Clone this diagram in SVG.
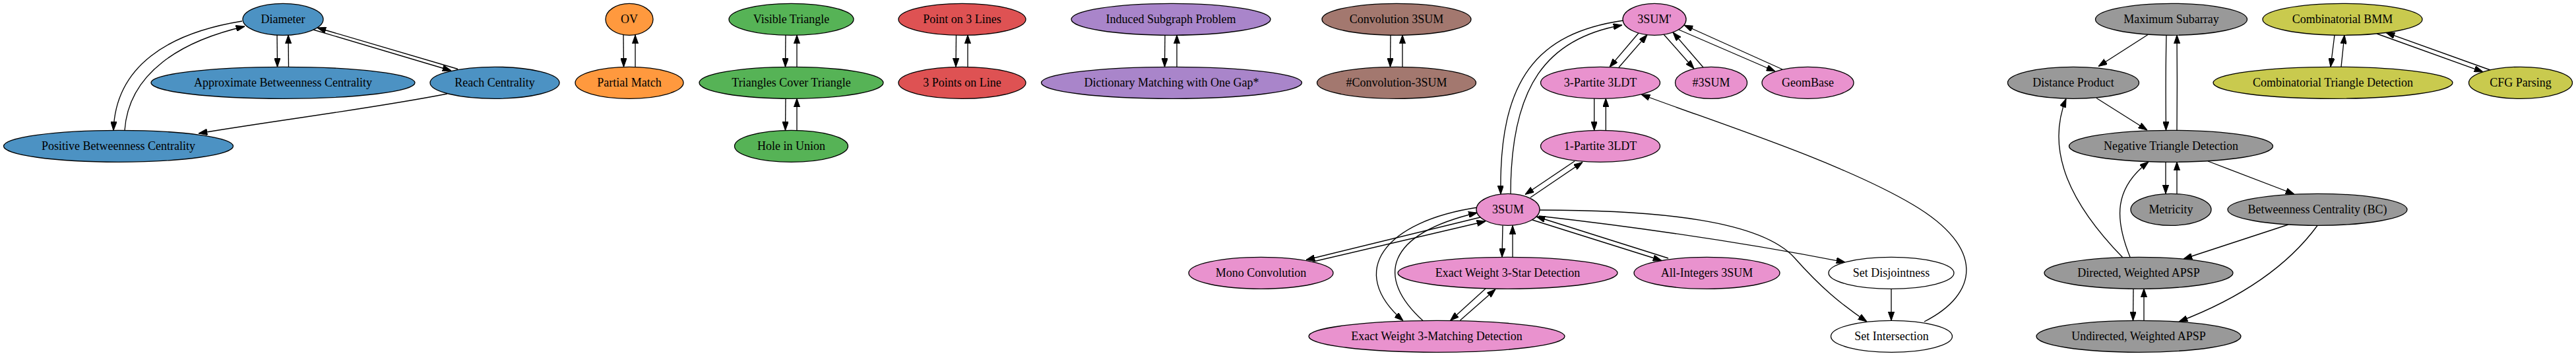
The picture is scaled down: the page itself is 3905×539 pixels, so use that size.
<svg xmlns="http://www.w3.org/2000/svg" width="3905" height="539" viewBox="0 0 3905 539">
<style>
.n ellipse{stroke:#000;stroke-width:1.33}
.n text{font-family:"Liberation Serif","Times New Roman",serif;font-size:18px;text-anchor:middle;fill:#000}
.blue ellipse{fill:#4c92c3}
.orange ellipse{fill:#ff993e}
.green ellipse{fill:#56b356}
.red ellipse{fill:#de5253}
.purple ellipse{fill:#a985ca}
.brown ellipse{fill:#a3786f}
.pink ellipse{fill:#e992ce}
.gray ellipse{fill:#999999}
.olive ellipse{fill:#c9ca4e}
.white ellipse{fill:#ffffff}
#edges path{fill:none;stroke:#000;stroke-width:1.33;marker-end:url(#ah)}
</style>
<defs>
<marker id="ah" viewBox="0 0 13.3 9.4" refX="13.3" refY="4.7" markerWidth="13.3" markerHeight="9.4" markerUnits="userSpaceOnUse" orient="auto">
<path d="M0,0 L13.3,4.7 L0,9.4 z" fill="#000" stroke="#000" stroke-width="1"/>
</marker>
</defs>
<rect width="3905" height="539" fill="#fff"/>
<g id="edges">
<!-- blue -->
<path d="M420,53 L420.5,101.3"/>
<path d="M437.5,101.3 L437,53"/>
<path d="M475,45 L684,107"/>
<path d="M694,104.5 L481,42"/>
<path d="M367,32 C255,50 175,100 172,197.5"/>
<path d="M189,197.5 C195,110 275,62 371,40"/>
<path d="M678,142 C560,165 420,182 301,202"/>
<!-- orange -->
<path d="M945,53 L945.5,101.3"/>
<path d="M963,101.3 L963,53"/>
<!-- green -->
<path d="M1191,53 L1190.5,101.3"/>
<path d="M1208,101.3 L1208,53"/>
<path d="M1191,149 L1190.5,197.4"/>
<path d="M1208,197.4 L1208,149"/>
<!-- red -->
<path d="M1449.5,53 L1449,101.3"/>
<path d="M1467,101.3 L1467,53"/>
<!-- purple -->
<path d="M1766,53 L1765.5,101.3"/>
<path d="M1784,101.3 L1784,53"/>
<!-- brown -->
<path d="M2108,53 L2107.5,101.3"/>
<path d="M2126,101.3 L2126,53"/>
<!-- pink -->
<path d="M2484,50 L2440,101.6"/>
<path d="M2454,102 L2497,52.6"/>
<path d="M2522,52 L2568,104"/>
<path d="M2582,102 L2536,49"/>
<path d="M2545,45 L2691,108"/>
<path d="M2702,105 L2553,38"/>
<path d="M2461,31 C2330,50 2272,120 2275,294"/>
<path d="M2290,293.5 C2290,130 2345,58 2459,38"/>
<path d="M2416.7,149 L2416.7,197.5"/>
<path d="M2434.3,197.5 L2434.3,149"/>
<path d="M2387,244 L2312,294.5"/>
<path d="M2320,299 L2399,245.5"/>
<path d="M2917,487 C3000,445 3010,375 2900,310 C2790,245 2600,185 2488,143"/>
<path d="M2240,314 C2100,335 2040,410 2127,485.5"/>
<path d="M2157,485.5 C2085,420 2100,355 2239.5,322"/>
<path d="M2244,329 L1980,393.5"/>
<path d="M1989,396.5 L2252,335"/>
<path d="M2278,341.5 L2277,389.3"/>
<path d="M2293,389.3 L2293,341.5"/>
<path d="M2323,333 L2519,394.5"/>
<path d="M2529,391 L2329,328"/>
<path d="M2252,437 L2198.5,485.4"/>
<path d="M2213.5,485 L2267,438"/>
<path d="M2333,327 Q2580,355 2797,397"/>
<path d="M2334,318 C2520,318 2670,335 2720,390 C2760,435 2790,460 2830,487"/>
<path d="M2867,437.3 L2867,485.3"/>
<!-- gray -->
<path d="M3256,52.5 L3181,100.5"/>
<path d="M3284,53 C3283,100 3283,150 3283.5,197.3"/>
<path d="M3300,197.3 C3300.5,150 3300.5,100 3300,53"/>
<path d="M3178,148.5 L3255,197"/>
<path d="M3283,245 L3283,293.3"/>
<path d="M3300,293.3 L3300,245"/>
<path d="M3347,244 L3478,294"/>
<path d="M3218,390 C3140,310 3100,230 3132,149.5"/>
<path d="M3229,389.3 C3205,330 3205,285 3257,245"/>
<path d="M3469,340 L3310,392"/>
<path d="M3513,341.5 C3470,400 3400,450 3303,487"/>
<path d="M3234,437 L3233.5,485.3"/>
<path d="M3250,485.3 L3250,437"/>
<!-- olive -->
<path d="M3539,53 L3533,101.3"/>
<path d="M3549,101.3 L3554,53"/>
<path d="M3603,51 L3764,108.8"/>
<path d="M3775,106 L3617,49.4"/>
</g>
<g id="n_diameter" class="n blue"><ellipse cx="429" cy="29.3" rx="61" ry="24"/><text x="429" y="35.3">Diameter</text></g>
<g id="n_abc" class="n blue"><ellipse cx="429" cy="125.3" rx="200" ry="24"/><text x="429" y="131.3">Approximate Betweenness Centrality</text></g>
<g id="n_reach" class="n blue"><ellipse cx="750" cy="125.3" rx="98" ry="24"/><text x="750" y="131.3">Reach Centrality</text></g>
<g id="n_pbc" class="n blue"><ellipse cx="179.5" cy="221.3" rx="174" ry="24"/><text x="179.5" y="227.3">Positive Betweenness Centrality</text></g>
<g id="n_ov" class="n orange"><ellipse cx="954" cy="29.3" rx="36" ry="24"/><text x="954" y="35.3">OV</text></g>
<g id="n_pm" class="n orange"><ellipse cx="954" cy="125.3" rx="82" ry="24"/><text x="954" y="131.3">Partial Match</text></g>
<g id="n_vt" class="n green"><ellipse cx="1199.5" cy="29.3" rx="94.5" ry="24"/><text x="1199.5" y="35.3">Visible Triangle</text></g>
<g id="n_tct" class="n green"><ellipse cx="1199.5" cy="125.3" rx="139.5" ry="24"/><text x="1199.5" y="131.3">Triangles Cover Triangle</text></g>
<g id="n_hiu" class="n green"><ellipse cx="1199.5" cy="221.3" rx="86" ry="24"/><text x="1199.5" y="227.3">Hole in Union</text></g>
<g id="n_po3l" class="n red"><ellipse cx="1458.5" cy="29.3" rx="96.5" ry="24"/><text x="1458.5" y="35.3">Point on 3 Lines</text></g>
<g id="n_3pol" class="n red"><ellipse cx="1458.5" cy="125.3" rx="96.5" ry="24"/><text x="1458.5" y="131.3">3 Points on Line</text></g>
<g id="n_isp" class="n purple"><ellipse cx="1775" cy="29.3" rx="151" ry="24"/><text x="1775" y="35.3">Induced Subgraph Problem</text></g>
<g id="n_dm" class="n purple"><ellipse cx="1776" cy="125.3" rx="197.5" ry="24"/><text x="1776" y="131.3">Dictionary Matching with One Gap*</text></g>
<g id="n_c3s" class="n brown"><ellipse cx="2117" cy="29.3" rx="113" ry="24"/><text x="2117" y="35.3">Convolution 3SUM</text></g>
<g id="n_hc3s" class="n brown"><ellipse cx="2117" cy="125.3" rx="120.5" ry="24"/><text x="2117" y="131.3">#Convolution-3SUM</text></g>
<g id="n_3sump" class="n pink"><ellipse cx="2508" cy="29.3" rx="48" ry="24"/><text x="2508" y="35.3">3SUM'</text></g>
<g id="n_3p3ldt" class="n pink"><ellipse cx="2426" cy="125.3" rx="90.5" ry="24"/><text x="2426" y="131.3">3-Partite 3LDT</text></g>
<g id="n_h3sum" class="n pink"><ellipse cx="2594" cy="125.3" rx="54.5" ry="24"/><text x="2594" y="131.3">#3SUM</text></g>
<g id="n_geom" class="n pink"><ellipse cx="2740.5" cy="125.3" rx="69.5" ry="24"/><text x="2740.5" y="131.3">GeomBase</text></g>
<g id="n_1p3ldt" class="n pink"><ellipse cx="2426" cy="221.3" rx="90.5" ry="24"/><text x="2426" y="227.3">1-Partite 3LDT</text></g>
<g id="n_3sum" class="n pink"><ellipse cx="2286" cy="317.3" rx="48" ry="24"/><text x="2286" y="323.3">3SUM</text></g>
<g id="n_mono" class="n pink"><ellipse cx="1911.5" cy="413.3" rx="109.5" ry="24"/><text x="1911.5" y="419.3">Mono Convolution</text></g>
<g id="n_ew3s" class="n pink"><ellipse cx="2285.5" cy="413.3" rx="166.5" ry="24"/><text x="2285.5" y="419.3">Exact Weight 3-Star Detection</text></g>
<g id="n_ai3s" class="n pink"><ellipse cx="2587.5" cy="413.3" rx="110.5" ry="24"/><text x="2587.5" y="419.3">All-Integers 3SUM</text></g>
<g id="n_sd" class="n white"><ellipse cx="2867" cy="413.3" rx="95" ry="24"/><text x="2867" y="419.3">Set Disjointness</text></g>
<g id="n_ew3m" class="n pink"><ellipse cx="2178" cy="509.3" rx="194" ry="24"/><text x="2178" y="515.3">Exact Weight 3-Matching Detection</text></g>
<g id="n_si" class="n white"><ellipse cx="2867.5" cy="509.3" rx="92" ry="24"/><text x="2867.5" y="515.3">Set Intersection</text></g>
<g id="n_ms" class="n gray"><ellipse cx="3291.5" cy="29.3" rx="115" ry="24"/><text x="3291.5" y="35.3">Maximum Subarray</text></g>
<g id="n_dp" class="n gray"><ellipse cx="3143" cy="125.3" rx="99.5" ry="24"/><text x="3143" y="131.3">Distance Product</text></g>
<g id="n_ntd" class="n gray"><ellipse cx="3291" cy="221.3" rx="154.5" ry="24"/><text x="3291" y="227.3">Negative Triangle Detection</text></g>
<g id="n_met" class="n gray"><ellipse cx="3291" cy="317.3" rx="61" ry="24"/><text x="3291" y="323.3">Metricity</text></g>
<g id="n_bc" class="n gray"><ellipse cx="3513" cy="317.3" rx="136" ry="24"/><text x="3513" y="323.3">Betweenness Centrality (BC)</text></g>
<g id="n_dapsp" class="n gray"><ellipse cx="3242" cy="413.3" rx="143" ry="24"/><text x="3242" y="419.3">Directed, Weighted APSP</text></g>
<g id="n_uapsp" class="n gray"><ellipse cx="3242" cy="509.3" rx="155" ry="24"/><text x="3242" y="515.3">Undirected, Weighted APSP</text></g>
<g id="n_cbmm" class="n olive"><ellipse cx="3551" cy="29.3" rx="121" ry="24"/><text x="3551" y="35.3">Combinatorial BMM</text></g>
<g id="n_ctd" class="n olive"><ellipse cx="3536.5" cy="125.3" rx="181.5" ry="24"/><text x="3536.5" y="131.3">Combinatorial Triangle Detection</text></g>
<g id="n_cfg" class="n olive"><ellipse cx="3821" cy="125.3" rx="78.5" ry="24"/><text x="3821" y="131.3">CFG Parsing</text></g>
</svg>
